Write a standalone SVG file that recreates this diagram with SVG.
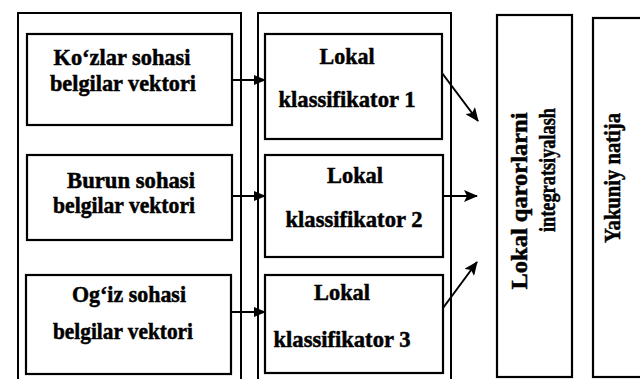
<svg xmlns="http://www.w3.org/2000/svg" width="640" height="379" viewBox="0 0 640 379">
  <defs>
    <style>
      .frame { fill: none; stroke: #000; stroke-width: 2; }
      .box { fill: #fff; stroke: #000; stroke-width: 2.2; }
      .lbl { font-family: "Liberation Serif", "Times New Roman", serif; font-weight: bold; font-size: 23px; fill: #000; stroke: #000; stroke-width: 0.5; text-anchor: middle; }
      .vlbl { font-size: 24px; }
      .conn { fill: none; stroke: #000; stroke-width: 2; }
    </style>
    <marker id="arrow" viewBox="0 0 12 10" refX="11" refY="5" markerWidth="12" markerHeight="10" markerUnits="userSpaceOnUse" orient="auto">
      <path d="M0,0 L12,5 L0,10 Z" fill="#000"/>
    </marker>
    <marker id="arrowBig" viewBox="0 0 14 12" refX="13" refY="6" markerWidth="14" markerHeight="12" markerUnits="userSpaceOnUse" orient="auto">
      <path d="M0,0 L14,6 L0,12 L3,6 Z" fill="#000"/>
    </marker>
  </defs>

  <rect width="640" height="379" fill="#fff"/>

  <!-- column frames, open at the bottom -->
  <path id="frame-features" class="frame" d="M18,381 V13 H241 V381"/>
  <path id="frame-classifiers" class="frame" d="M258,381 V13 H451 V381"/>

  <!-- feature vectors -->
  <g id="feat-eyes">
    <rect class="box" x="27" y="34" width="205" height="91"/>
    <text class="lbl" x="122" y="65" textLength="137" lengthAdjust="spacingAndGlyphs">Ko‘zlar sohasi</text>
    <text class="lbl" x="123" y="91" textLength="146" lengthAdjust="spacingAndGlyphs">belgilar vektori</text>
  </g>
  <g id="feat-nose">
    <rect class="box" x="27" y="155" width="205" height="85"/>
    <text class="lbl" x="131" y="188" textLength="128" lengthAdjust="spacingAndGlyphs">Burun sohasi</text>
    <text class="lbl" x="124" y="213" textLength="142" lengthAdjust="spacingAndGlyphs">belgilar vektori</text>
  </g>
  <g id="feat-mouth">
    <rect class="box" x="26" y="275" width="205" height="99"/>
    <text class="lbl" x="129" y="302" textLength="114" lengthAdjust="spacingAndGlyphs">Og‘iz sohasi</text>
    <text class="lbl" x="123" y="339" textLength="140" lengthAdjust="spacingAndGlyphs">belgilar vektori</text>
  </g>

  <!-- local classifiers -->
  <g id="clf-1">
    <rect class="box" x="265" y="34" width="177" height="105"/>
    <text class="lbl" x="347" y="64" textLength="55" lengthAdjust="spacingAndGlyphs">Lokal</text>
    <text class="lbl" x="347" y="107" textLength="137" lengthAdjust="spacingAndGlyphs">klassifikator 1</text>
  </g>
  <g id="clf-2">
    <rect class="box" x="265" y="155" width="178" height="102"/>
    <text class="lbl" x="355" y="183" textLength="56" lengthAdjust="spacingAndGlyphs">Lokal</text>
    <text class="lbl" x="354" y="227" textLength="137" lengthAdjust="spacingAndGlyphs">klassifikator 2</text>
  </g>
  <g id="clf-3">
    <rect class="box" x="265" y="275" width="178" height="98"/>
    <text class="lbl" x="342" y="300" textLength="56" lengthAdjust="spacingAndGlyphs">Lokal</text>
    <text class="lbl" x="342" y="347" textLength="137" lengthAdjust="spacingAndGlyphs">klassifikator 3</text>
  </g>

  <!-- fusion and result -->
  <g id="fusion">
    <rect class="box" x="497" y="15" width="75" height="362"/>
    <text class="lbl vlbl" transform="translate(527,201) rotate(-90)" textLength="177" lengthAdjust="spacingAndGlyphs">Lokal qarorlarni</text>
    <text class="lbl vlbl" transform="translate(555,170) rotate(-90)" textLength="124" lengthAdjust="spacingAndGlyphs">integratsiyalash</text>
  </g>
  <g id="result">
    <rect class="box" x="593" y="18" width="50" height="359"/>
    <text class="lbl vlbl" transform="translate(620,178) rotate(-90)" textLength="130" lengthAdjust="spacingAndGlyphs">Yakuniy natija</text>
  </g>

  <!-- connectors -->
  <g id="connectors">
    <line class="conn" x1="232" y1="80" x2="265" y2="80" marker-end="url(#arrow)"/>
    <line class="conn" x1="232" y1="196" x2="265" y2="196" marker-end="url(#arrow)"/>
    <line class="conn" x1="231" y1="312" x2="265" y2="312" marker-end="url(#arrow)"/>
    <line class="conn" x1="442" y1="73" x2="478" y2="121" marker-end="url(#arrowBig)"/>
    <line class="conn" x1="443" y1="196" x2="477" y2="196" marker-end="url(#arrowBig)"/>
    <line class="conn" x1="443" y1="308" x2="477" y2="262" marker-end="url(#arrowBig)"/>
  </g>
</svg>
